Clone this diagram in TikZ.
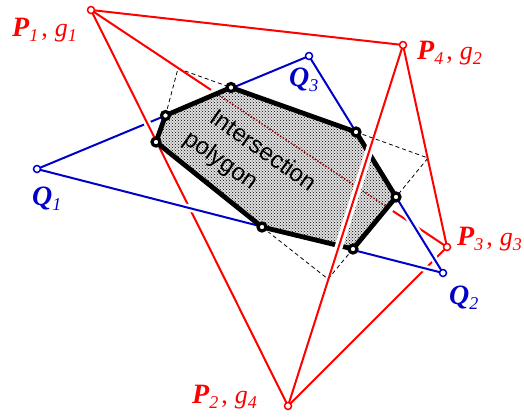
\documentclass[tikz,border=0pt]{standalone}
\usepackage{fontspec}
\setmainfont{Liberation Serif}
\newfontfamily\sansf{Liberation Sans}
\usetikzlibrary{patterns,calc}
\definecolor{pred}{RGB}{255,0,0}
\definecolor{qblue}{RGB}{0,0,200}
\definecolor{dred}{RGB}{140,0,0}
\newcommand{\bigsym}[1]{{\fontsize{28}{28}\selectfont\bfseries\itshape #1}}
\newcommand{\subn}[1]{\raisebox{-5pt}{\fontsize{18}{18}\selectfont\itshape #1}}
\newcommand{\gsym}[1]{{\fontsize{26}{26}\selectfont\kern3pt,\kern7pt\itshape g}\subn{#1}}
\begin{document}
\begin{tikzpicture}[x=1pt,y=-1pt,
  redline/.style={draw=pred,line width=2pt},
  blueline/.style={draw=qblue,line width=2pt},
  halo/.style={draw=white,line width=7pt},
  edgeline/.style={draw=black,line width=4.8pt,line join=round},
  auxdash/.style={draw=black,line width=0.8pt,dash pattern=on 4pt off 3pt},
  pvert/.style={circle,draw=pred,fill=white,line width=1.5pt,inner sep=0pt,minimum size=7pt},
  qvert/.style={circle,draw=qblue,fill=white,line width=1.5pt,inner sep=0pt,minimum size=7pt},
  ivert/.style={circle,draw=black,fill=white,line width=3.2pt,inner sep=0pt,minimum size=8pt},
  plabel/.style={anchor=base west,text=pred,inner sep=0pt},
  qlabel/.style={anchor=base west,text=qblue,inner sep=0pt},
  tlabel/.style={anchor=base west,rotate=-35,inner sep=0pt,font=\sansf\fontsize{24}{24}\selectfont}]
\useasboundingbox (0,0) rectangle (524,416);
% element vertices
\coordinate (P1) at (91,10);
\coordinate (P4) at (403,45);
\coordinate (P3) at (447,247);
\coordinate (P2) at (288,406);
\coordinate (Q1) at (37,169);
\coordinate (Q3) at (309,56);
\coordinate (Q2) at (443,273);
% intersection polygon
\coordinate (V1) at (231,87.5);
\coordinate (V2) at (356,132);
\coordinate (V3) at (396,197);
\coordinate (V4) at (353,249);
\coordinate (V5) at (262,227);
\coordinate (V6) at (156,142);
\coordinate (V7) at (165.5,115.5);
% dashed corners
\coordinate (A) at (178,68.5);
\coordinate (B) at (428,158);
\coordinate (C) at (328,279);
\coordinate (X1) at ($(P1)!0.337!(P3)$);
\coordinate (X2) at ($(P1)!0.848!(P3)$);
\coordinate (H1) at ($(P4)!0.27!(P2)$);
\coordinate (H2) at ($(P4)!0.60!(P2)$);

% dashed auxiliary quadrilateral corners
\draw[auxdash] (V7) -- (A) -- (V1);
\draw[auxdash] (V2) -- (B) -- (V3);
\draw[auxdash] (V5) -- (C) -- (V4);

% blue Q1-Q3
\draw[blueline] (Q1) -- (Q3);
% red edges
\draw[redline] (P1) -- (P4);
\draw[redline] (P4) -- (P3);
\draw[redline] (P1) -- (X1);
\draw[redline] (X2) -- (P3);
\draw[redline] (P2) -- (P3);
\draw[halo,shorten <=12pt,shorten >=12pt] (P1) -- (P2);
\draw[redline] (P1) -- (P2);
% blue edges with halo
\draw[halo,shorten <=10pt,shorten >=8pt] (Q1) -- (Q2);
\draw[blueline] (Q1) -- (Q2);
\draw[halo,shorten <=10pt,shorten >=8pt] (Q3) -- (Q2);
\draw[blueline] (Q3) -- (Q2);

% intersection polygon
\fill[black!12] (V1) -- (V2) -- (V3) -- (V4) -- (V5) -- (V6) -- (V7) -- cycle;
\fill[pattern=crosshatch dots,pattern color=black] (V1) -- (V2) -- (V3) -- (V4) -- (V5) -- (V6) -- (V7) -- cycle;
\begin{scope}
  \clip (V1) -- (V2) -- (V3) -- (V4) -- (V5) -- (V6) -- (V7) -- cycle;
  \draw[dred,line width=1.5pt,dash pattern=on 1.4pt off 1.8pt] (P1) -- (P3);
\end{scope}
\draw[edgeline] (V1) -- (V2) -- (V3) -- (V4) -- (V5) -- (V6) -- (V7) -- cycle;

% red P4-P2 on top
\draw[draw=white,line width=8pt] (H1) -- (H2);
\draw[redline] (P4) -- (P2);

% text
\node[tlabel] (t1) at (208,121) {Intersection};
\node[tlabel] (t2) at (182,142) {polygon};

% vertex markers
\foreach \v in {V1,V2,V3,V4,V5,V6,V7} \node[ivert] (m\v) at (\v) {};
\foreach \v in {P1,P2,P3,P4} \node[pvert] (m\v) at (\v) {};
\foreach \v in {Q1,Q2,Q3} \node[qvert] (m\v) at (\v) {};

% labels
\node[plabel] (lP1) at (12,36) {\bigsym{P}\subn{1}\gsym{1}};
\node[plabel] (lP4) at (417,59) {\bigsym{P}\subn{4}\gsym{2}};
\node[plabel] (lP3) at (457,245) {\bigsym{P}\subn{3}\gsym{3}};
\node[plabel] (lP2) at (192,403) {\bigsym{P}\subn{2}\gsym{4}};
\node[qlabel] (lQ1) at (32,205) {\bigsym{Q}\subn{1}};
\node[qlabel] (lQ3) at (289,86) {\bigsym{Q}\subn{3}};
\node[qlabel] (lQ2) at (449,304) {\bigsym{Q}\subn{2}};
\end{tikzpicture}
\end{document}
